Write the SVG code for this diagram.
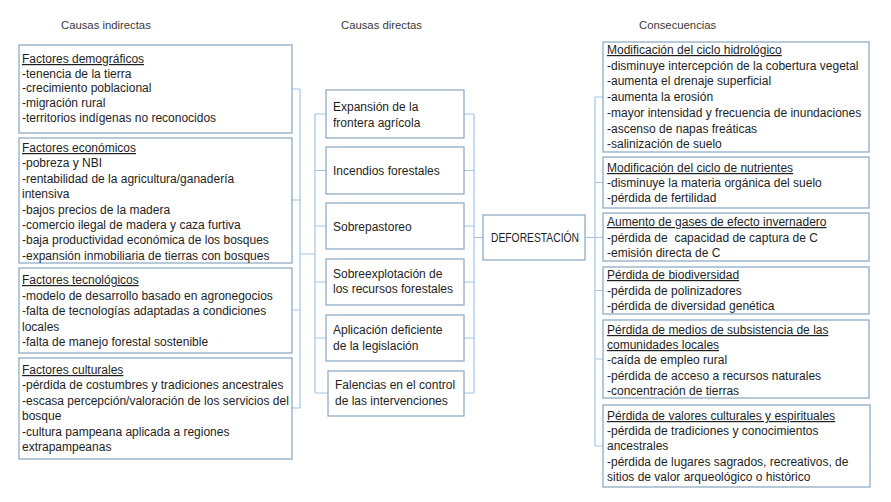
<svg xmlns="http://www.w3.org/2000/svg" width="891" height="502" viewBox="0 0 891 502">
<style>
text{font-family:"Liberation Sans",Arial,sans-serif;font-size:12px;fill:#1e1e1e}
.h{font-size:11.3px;fill:#3a3a3a}
.u{text-decoration:underline}
.box{fill:#fff;stroke:#87a6c0;stroke-width:1.2}
.con{fill:none;stroke:#a3c5e2;stroke-width:1.2}
</style>
<rect width="891" height="502" fill="#fff"/>
<g id="headers">
<text class="h" x="61" y="29">Causas indirectas</text>
<text class="h" x="341" y="29">Causas directas</text>
<text class="h" x="639" y="29">Consecuencias</text>
</g>
<g id="connectors">
<path class="con" d="M292 89H300M292 200H300M292 310H300M292 408H300M300 89V408M300 254H315M315 114V393M315 114H326M315 170.5H326M315 226H326M315 282H326M315 338H326M315 393H328"/>
<path class="con" d="M464 114H474M464 170.5H474M464 226H474M464 282H474M464 338H474M464 393H474M474 114V393M474 237.5H483"/>
<path class="con" d="M585 237.5H595M595 97V446M595 97H603M595 182.5H603M595 237.5H603M595 290.5H603M595 359H603M595 446H603"/>
</g>
<g id="demograficos">
<rect class="box" x="19" y="45" width="273" height="88"/>
<text class="u" x="22" y="63">Factores demográficos</text>
<text x="22" y="77.5">-tenencia de la tierra</text>
<text x="22" y="92">-crecimiento poblacional</text>
<text x="22" y="107">-migración rural</text>
<text x="22" y="121.5">-territorios indígenas no reconocidos</text>
</g>
<g id="economicos">
<rect class="box" x="19" y="138" width="273" height="125"/>
<text class="u" x="22" y="152">Factores económicos</text>
<text x="22" y="167.4">-pobreza y NBI</text>
<text x="22" y="182.8">-rentabilidad de la agricultura/ganadería</text>
<text x="22" y="198.2">intensiva</text>
<text x="22" y="213.6">-bajos precios de la madera</text>
<text x="22" y="229">-comercio ilegal de madera y caza furtiva</text>
<text x="22" y="244.4">-baja productividad económica de los bosques</text>
<text x="22" y="259.8">-expansión inmobiliaria de tierras con bosques</text>
</g>
<g id="tecnologicos">
<rect class="box" x="19" y="268" width="273" height="85"/>
<text class="u" x="22" y="284">Factores tecnológicos</text>
<text x="22" y="299.5">-modelo de desarrollo basado en agronegocios</text>
<text x="22" y="315">-falta de tecnologías adaptadas a condiciones</text>
<text x="22" y="330.5">locales</text>
<text x="22" y="346">-falta de manejo forestal sostenible</text>
</g>
<g id="culturales">
<rect class="box" x="19" y="358" width="273" height="101"/>
<text class="u" x="22" y="374">Factores culturales</text>
<text x="22" y="389.4">-pérdida de costumbres y tradiciones ancestrales</text>
<text x="22" y="404.8">-escasa percepción/valoración de los servicios del</text>
<text x="22" y="420.2">bosque</text>
<text x="22" y="435.6">-cultura pampeana aplicada a regiones</text>
<text x="22" y="451">extrapampeanas</text>
</g>
<g id="expansion">
<rect class="box" x="326" y="90" width="138" height="48"/>
<text x="333" y="111">Expansión de la</text>
<text x="333" y="127">frontera agrícola</text>
</g>
<g id="incendios">
<rect class="box" x="326" y="147" width="138" height="47"/>
<text x="333" y="175">Incendios forestales</text>
</g>
<g id="sobrepastoreo">
<rect class="box" x="326" y="203" width="138" height="46"/>
<text x="333" y="231">Sobrepastoreo</text>
</g>
<g id="sobreexplotacion">
<rect class="box" x="326" y="259" width="138" height="46"/>
<text x="333" y="278">Sobreexplotación de</text>
<text x="333" y="293">los recursos forestales</text>
</g>
<g id="aplicacion">
<rect class="box" x="326" y="315" width="138" height="46"/>
<text x="333" y="334">Aplicación deficiente</text>
<text x="333" y="350">de la legislación</text>
</g>
<g id="falencias">
<rect class="box" x="328" y="371" width="136" height="45"/>
<text x="335" y="389">Falencias en el control</text>
<text x="335" y="405">de las intervenciones</text>
</g>
<g id="deforestacion">
<rect class="box" x="483" y="215" width="102" height="45"/>
<text x="491" y="242" textLength="88" lengthAdjust="spacingAndGlyphs">DEFORESTACIÓN</text>
</g>
<g id="hidrologico">
<rect class="box" x="603" y="42" width="266" height="110"/>
<text class="u" x="607" y="54">Modificación del ciclo hidrológico</text>
<text x="607" y="69.7">-disminuye intercepción de la cobertura vegetal</text>
<text x="607" y="85.4">-aumenta el drenaje superficial</text>
<text x="607" y="101.1">-aumenta la erosión</text>
<text x="607" y="116.8">-mayor intensidad y frecuencia de inundaciones</text>
<text x="607" y="132.5">-ascenso de napas freáticas</text>
<text x="607" y="148.2">-salinización de suelo</text>
</g>
<g id="nutrientes">
<rect class="box" x="603" y="157" width="266" height="51"/>
<text class="u" x="607" y="172">Modificación del ciclo de nutrientes</text>
<text x="607" y="187">-disminuye la materia orgánica del suelo</text>
<text x="607" y="202">-pérdida de fertilidad</text>
</g>
<g id="gases">
<rect class="box" x="603" y="213" width="266" height="48"/>
<text class="u" x="607" y="226">Aumento de gases de efecto invernadero</text>
<text x="607" y="242" xml:space="preserve">-pérdida de  capacidad de captura de C</text>
<text x="607" y="257">-emisión directa de C</text>
</g>
<g id="biodiversidad">
<rect class="box" x="603" y="267" width="266" height="47"/>
<text class="u" x="607" y="279">Pérdida de biodiversidad</text>
<text x="607" y="295">-pérdida de polinizadores</text>
<text x="607" y="310">-pérdida de diversidad genética</text>
</g>
<g id="subsistencia">
<rect class="box" x="603" y="320" width="266" height="78"/>
<text class="u" x="607" y="334">Pérdida de medios de subsistencia de las</text>
<text class="u" x="607" y="349">comunidades locales</text>
<text x="607" y="364">-caída de empleo rural</text>
<text x="607" y="380">-pérdida de acceso a recursos naturales</text>
<text x="607" y="395">-concentración de tierras</text>
</g>
<g id="valores">
<rect class="box" x="603" y="405" width="267" height="82"/>
<text class="u" x="607" y="420">Pérdida de valores culturales y espirituales</text>
<text x="607" y="435">-pérdida de tradiciones y conocimientos</text>
<text x="607" y="450">ancestrales</text>
<text x="607" y="466">-pérdida de lugares sagrados, recreativos, de</text>
<text x="607" y="481">sitios de valor arqueológico o histórico</text>
</g>
</svg>
